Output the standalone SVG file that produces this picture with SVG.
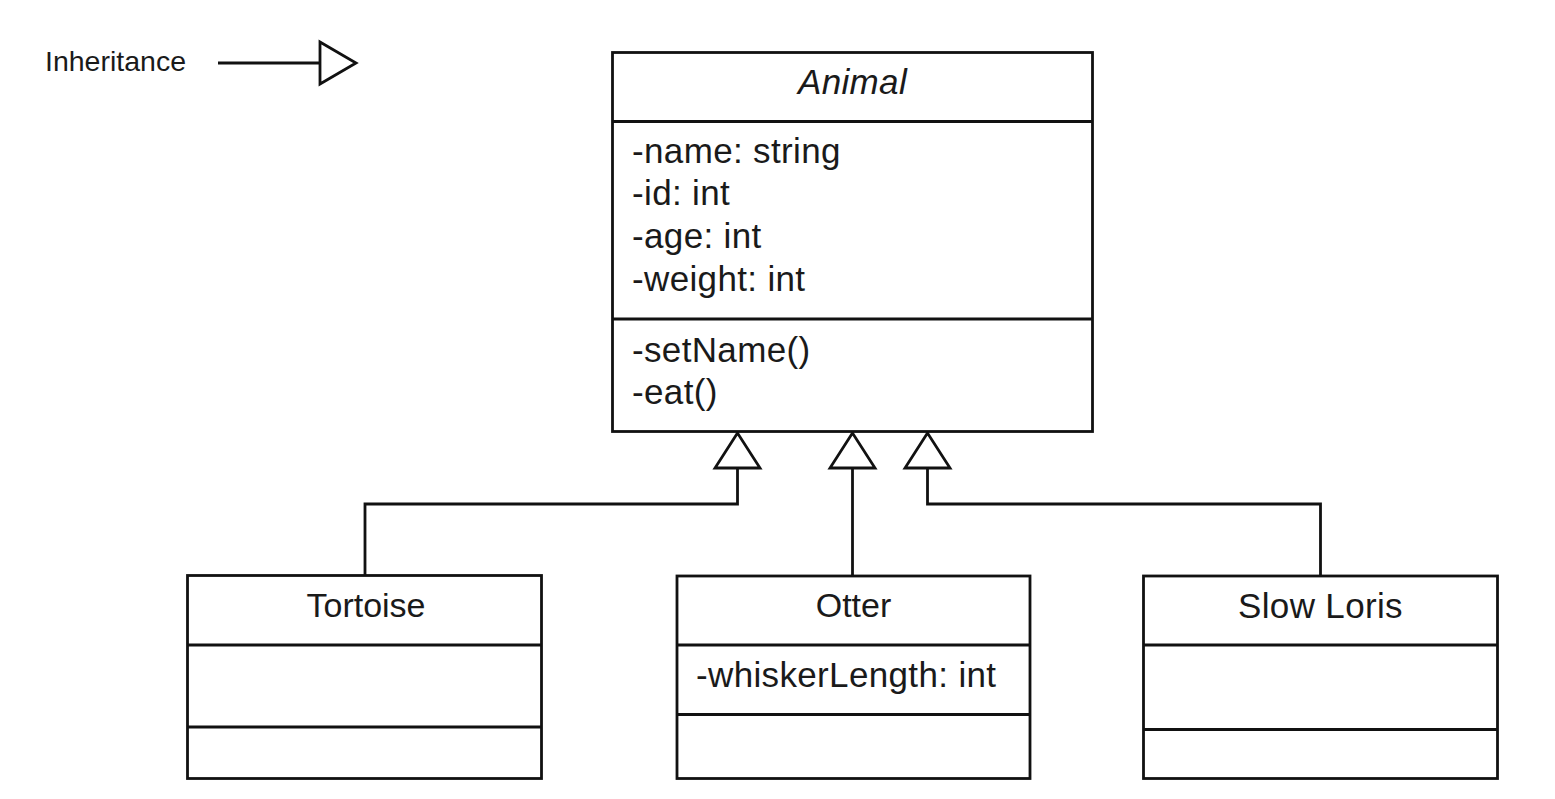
<svg xmlns="http://www.w3.org/2000/svg" width="1555" height="799" viewBox="0 0 1555 799">
<style>
.box{fill:#fff;stroke:#111;stroke-width:2.8}
.div{stroke:#111;stroke-width:2.8;fill:none}
.t{font-family:"Liberation Sans",Arial,sans-serif;font-size:35px;letter-spacing:0.35px;fill:#1a1a1a}
.h{font-size:34px;letter-spacing:0}
.c{text-anchor:middle}
.conn{fill:none;stroke:#111;stroke-width:2.8}
.tri{fill:#fff;stroke:#111;stroke-width:2.8;stroke-linejoin:miter}
</style>
<rect width="1555" height="799" fill="#fff"/>
<g id="legend">
<text class="t" x="45" y="71" style="font-size:28.5px;letter-spacing:0">Inheritance</text>
<line class="conn" x1="218" y1="63" x2="320" y2="63"/>
<polygon class="tri" points="320,42 356,63 320,84"/>
</g>
<g id="connectors">
<polyline class="conn" points="737.5,468 737.5,504 365,504 365,575"/>
<line class="conn" x1="852.5" y1="468" x2="852.5" y2="576"/>
<polyline class="conn" points="927.5,468 927.5,504 1320.5,504 1320.5,576"/>
<polygon class="tri" points="737.5,433 715,468 760,468"/>
<polygon class="tri" points="852.5,433 830,468 875,468"/>
<polygon class="tri" points="927.5,433 905,468 950,468"/>
</g>
<g id="animal">
<rect class="box" x="612.5" y="52.5" width="480" height="379"/>
<line class="div" x1="612.5" y1="121.5" x2="1092.5" y2="121.5"/>
<line class="div" x1="612.5" y1="319" x2="1092.5" y2="319"/>
<text class="t c" x="852.5" y="94" font-style="italic">Animal</text>
<text class="t" x="632" y="163">-name: string</text>
<text class="t" x="632" y="205">-id: int</text>
<text class="t" x="632" y="248">-age: int</text>
<text class="t" x="632" y="291">-weight: int</text>
<text class="t" x="632" y="362">-setName()</text>
<text class="t" x="632" y="404">-eat()</text>
</g>
<g id="tortoise">
<rect class="box" x="187.5" y="575.5" width="354" height="203"/>
<line class="div" x1="187.5" y1="645" x2="541.5" y2="645"/>
<line class="div" x1="187.5" y1="727" x2="541.5" y2="727"/>
<text class="t h c" x="366" y="617">Tortoise</text>
</g>
<g id="otter">
<rect class="box" x="677" y="576" width="353" height="202.5"/>
<line class="div" x1="677" y1="645" x2="1030" y2="645"/>
<line class="div" x1="677" y1="714.5" x2="1030" y2="714.5"/>
<text class="t h c" x="853.5" y="617">Otter</text>
<text class="t" x="696" y="687">-whiskerLength: int</text>
</g>
<g id="slowloris">
<rect class="box" x="1143.5" y="576" width="354" height="202.5"/>
<line class="div" x1="1143.5" y1="645" x2="1497.5" y2="645"/>
<line class="div" x1="1143.5" y1="729.5" x2="1497.5" y2="729.5"/>
<text class="t c" x="1320.5" y="618">Slow Loris</text>
</g>
</svg>
